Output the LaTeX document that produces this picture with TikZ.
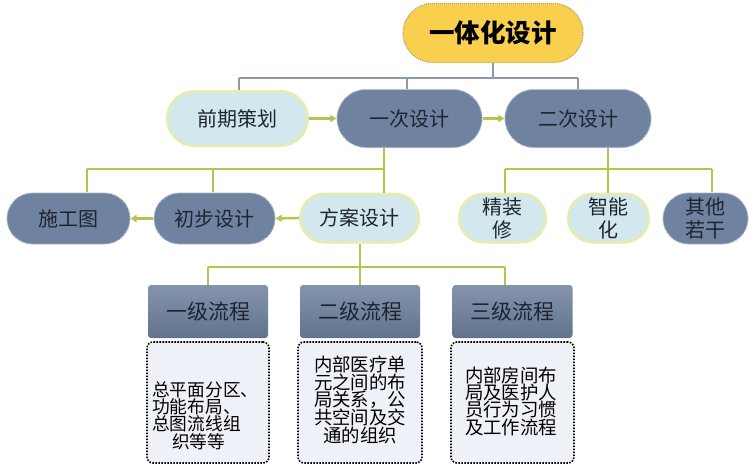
\documentclass[tikz,border=0pt]{standalone}
\usepackage{fontspec}
\setmainfont{Noto Sans CJK SC}
\usetikzlibrary{shapes.misc,arrows.meta}
\definecolor{slate}{HTML}{6F82A0}
\definecolor{slatedot}{HTML}{A3B1CA}
\definecolor{lblue}{HTML}{D3E8EE}
\definecolor{lborder}{HTML}{E3ECB4}
\definecolor{olive}{HTML}{B6C44C}
\definecolor{greyline}{HTML}{8D99AA}
\definecolor{gold}{HTML}{F8D04E}
\definecolor{golddot}{HTML}{B8A060}
\definecolor{paper}{HTML}{EEF1F8}
\definecolor{ink}{HTML}{1E2530}
\begin{document}
\begin{tikzpicture}[x=1pt,y=-1pt,
  pill/.style={rounded rectangle, inner sep=0pt, text=ink, align=center,
    font=\fontsize{20}{23}\selectfont},
  darkpill/.style={pill, fill=slate, draw=slatedot, line width=1.2pt, dash pattern=on 1pt off 1pt},
  lightpill/.style={pill, fill=lblue, draw=lborder, line width=3pt},
  lvlbox/.style={rectangle, rounded corners=3pt, minimum width=120pt, minimum height=53pt,
    top color=slate!85!white, bottom color=slate!88!black, text=ink,
    font=\fontsize{21}{24}\selectfont},
  notebox/.style={rectangle, rounded corners=6pt, minimum height=121pt, fill=paper,
    draw=black, line width=1.6pt, dash pattern=on 1.6pt off 1.4pt},
  notetext/.style={inner sep=0pt, text=black, font=\fontsize{18.4}{17}\selectfont, align=center},
  greyc/.style={draw=greyline, line width=2.4pt},
  oliv/.style={draw=olive, line width=2.4pt},
  olarrow/.style={oliv, -{Triangle[length=6pt,width=7pt]}}
]
\useasboundingbox (0,0) rectangle (753,475);
\fill[white] (0,0) rectangle (753,475);

% top level
\node[rounded rectangle, minimum width=180pt, minimum height=59pt, fill=gold,
  draw=golddot, line width=1.2pt, dash pattern=on 1pt off 1pt, inner sep=0pt,
  font=\fontsize{25.5}{28}\selectfont\bfseries, text=black] (top) at (493,33) {一体化设计};

% second level
\node[lightpill, minimum width=140pt, minimum height=54pt] (qq) at (237.5,118.5) {前期策划};
\node[darkpill, minimum width=145pt, minimum height=58pt] (yc) at (409.5,118.5) {一次设计};
\node[darkpill, minimum width=146pt, minimum height=58pt] (ec) at (578,118.5) {二次设计};

% third level
\node[darkpill, minimum width=123pt, minimum height=51pt] (sg) at (68.5,218.5) {施工图};
\node[darkpill, minimum width=121pt, minimum height=51pt] (cb) at (214.5,218.5) {初步设计};
\node[lightpill, minimum width=118pt, minimum height=48pt] (fa) at (359.5,218) {方案设计};
\node[lightpill, minimum width=86pt, minimum height=48pt] (jz) at (502.5,218) {精装\\修};
\node[lightpill, minimum width=80pt, minimum height=48pt] (zn) at (608.5,218) {智能\\化};
\node[darkpill, minimum width=85pt, minimum height=51pt] (qt) at (705.5,218.5) {其他\\若干};

% process level
\node[lvlbox] (l1) at (208,311.5) {一级流程};
\node[lvlbox] (l2) at (360,311.5) {二级流程};
\node[lvlbox] (l3) at (512.5,311.5) {三级流程};

\node[notebox, minimum width=122pt] (d1) at (208,402.5) {};
\node[notebox, minimum width=124pt] (d2) at (360,402.5) {};
\node[notebox, minimum width=123pt] (d3) at (512.5,402.5) {};

\node[notetext, anchor=west, align=left, font=\fontsize{17.7}{15}\selectfont] (t1) at (152,415.5)
  {总平面分区、\\功能布局、\\总图流线组\\\hspace*{20pt}织等等};
\node[notetext] (t2) at (360,400) {内部医疗单\\元之间的布\\局关系，公\\共空间及交\\通的组织};
\node[notetext] (t3) at (511,401.5) {内部房间布\\局及医护人\\员行为习惯\\及工作流程};

% grey connectors from top
\coordinate (g) at (493,78);
\coordinate (gL) at (239,78);
\coordinate (gM) at (407,78);
\coordinate (gR) at (578,78);
\draw[greyc] (top.south) -- (g);
\draw[greyc] (gL) -- (gR);
\draw[greyc] (gL) -- (gL |- qq.north);
\draw[greyc] (gM) -- (gM |- yc.north);
\draw[greyc] (gR) -- (gR |- ec.north);

% arrows second level
\draw[olarrow] (qq.east) -- (yc.west);
\draw[olarrow] (yc.east) -- (ec.west);

% olive tree below 一次设计
\coordinate (j1) at (384,169);
\coordinate (j1a) at (87,169);
\coordinate (j1b) at (213,169);
\draw[oliv] (yc.south -| j1) -- (fa.north -| j1);
\draw[oliv] (j1a) -- (j1);
\draw[oliv] (j1a) -- (j1a |- sg.north);
\draw[oliv] (j1b) -- (j1b |- cb.north);
\draw[olarrow] (fa.west) -- (cb.east);
\draw[olarrow] (cb.west) -- (sg.east);

% olive tree below 二次设计
\coordinate (j2) at (608,169);
\coordinate (j2a) at (505,169);
\coordinate (j2b) at (712,169);
\draw[oliv] (ec.south -| j2) -- (zn.north -| j2);
\draw[oliv] (j2a) -- (j2b);
\draw[oliv] (j2a) -- (j2a |- jz.north);
\draw[oliv] (j2b) -- (j2b |- qt.north);

% olive tree below 方案设计
\coordinate (j3) at (360,267);
\coordinate (j3a) at (208,267);
\coordinate (j3b) at (505,267);
\draw[oliv] (fa.south -| j3) -- (l2.north -| j3);
\draw[oliv] (j3a) -- (j3b);
\draw[oliv] (j3a) -- (j3a |- l1.north);
\draw[oliv] (j3b) -- (j3b |- l3.north);
\end{tikzpicture}
\end{document}
